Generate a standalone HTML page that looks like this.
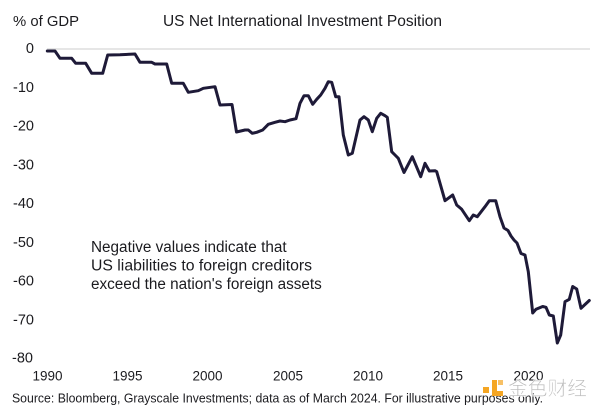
<!DOCTYPE html>
<html>
<head>
<meta charset="utf-8">
<style>
  html, body { margin: 0; padding: 0; background: #ffffff; }
  body { width: 600px; height: 411px; overflow: hidden; }
  svg { display: block; }
  .t { font-family: "Liberation Sans", Arial, sans-serif; fill: #1b1b1f; }
</style>
</head>
<body>
<svg width="600" height="411" viewBox="0 0 600 411" xmlns="http://www.w3.org/2000/svg">
  <rect x="0" y="0" width="600" height="411" fill="#ffffff"/>

  <!-- header -->
  <text class="t" x="13" y="26" font-size="15" textLength="66" lengthAdjust="spacingAndGlyphs">% of GDP</text>
  <text class="t" x="163" y="26" font-size="15.3" textLength="279" lengthAdjust="spacingAndGlyphs">US Net International Investment Position</text>

  <!-- zero gridline -->
  <line x1="47" y1="49" x2="590" y2="49" stroke="#e6e6e6" stroke-width="2"/>

  <!-- y-axis labels -->
  <g class="t" font-size="14.5" text-anchor="end">
    <text x="34" y="53.2">0</text>
    <text x="34" y="91.9">-10</text>
    <text x="34" y="130.7">-20</text>
    <text x="34" y="169.4">-30</text>
    <text x="34" y="208.2">-40</text>
    <text x="34" y="246.9">-50</text>
    <text x="34" y="285.7">-60</text>
    <text x="34" y="324.4">-70</text>
    <text x="33" y="362.5">-80</text>
  </g>

  <!-- x-axis labels -->
  <g class="t" font-size="13.5" text-anchor="middle">
    <text x="47.5" y="380.5">1990</text>
    <text x="127.5" y="380.5">1995</text>
    <text x="207.5" y="380.5">2000</text>
    <text x="288" y="380.5">2005</text>
    <text x="368" y="380.5">2010</text>
    <text x="448" y="380.5">2015</text>
    <text x="528.5" y="380.5">2020</text>
  </g>

  <!-- data line -->
  <polyline fill="none" stroke="#1e1a38" stroke-width="3" stroke-linejoin="round" stroke-linecap="round"
    points="47.3,51 55,51 60,58.3 71.7,58.3 75.7,63.3 85.7,63.3 91.7,73.3 102.7,73.3 107.7,55 120,54.7 135,54 140,62.3 151.7,62.3 155,64 166.7,64 171.7,83.3 183.3,83.3 188.3,92.3 198.3,90.7 203.3,88.3 215,86.7 220,105 232,104.5 236.5,132 245,130 248.3,130 252.3,133.3 256.7,132.3 262.7,130 268.3,124.3 275,122.3 280,121 285,121.7 290,120 296,118.7 300,103.3 304,95.7 308.3,95.7 312.7,104.3 316.7,99.3 320.7,95 325,88.3 328.3,81.7 331.7,82.3 335.7,96.7 339,96.7 343.3,135 348.3,155 352.3,153.3 360,120 364,116.7 368.3,120 372.3,131.7 376.7,118.3 380.7,113.3 385,115.7 387.3,117.3 391.7,151.7 395,155 398.3,158.3 404,172.5 412.3,156.7 420.7,176.7 425,163.3 429.3,171 435,170.7 436.7,171.7 445,200.7 452.7,195 456.7,205 461.7,209.3 469.3,220.7 473.3,215 477.3,216.7 485,206.7 489.3,200.7 495.7,200.7 500,216.7 504,228 508,230.5 511,236 514,240 517,243 521,253.5 525,255 528.3,271.7 532.7,313 536,309.3 542.7,306.5 546,307.3 549.3,315 553.3,316 557.3,343 560.7,335 565,301.7 569.3,299.3 572.7,286.5 576.7,289 581,308.3 585,304.5 589.3,300.5"/>

  <!-- annotation -->
  <g class="t" font-size="15.3">
    <text x="91" y="252">Negative values indicate that</text>
    <text x="91" y="270.5" textLength="221" lengthAdjust="spacingAndGlyphs">US liabilities to foreign creditors</text>
    <text x="91" y="289">exceed the nation's foreign assets</text>
  </g>

  <!-- source -->
  <text class="t" x="12" y="402.7" font-size="13" textLength="531" lengthAdjust="spacingAndGlyphs">Source: Bloomberg, Grayscale Investments; data as of March 2024. For illustrative purposes only.</text>

  <!-- watermark -->
  <g>
    <rect x="483" y="387" width="6" height="6" fill="#f5a623"/>
    <rect x="492" y="380" width="5" height="16" fill="#f5a623"/>
    <rect x="492" y="391" width="11" height="5" fill="#f5a623"/>
    <rect x="498" y="380" width="5" height="5" fill="#f7c065"/>
    <text x="508" y="395" font-size="19.5" font-family="'Liberation Sans','Noto Sans CJK SC',sans-serif"
      fill="#bdbdbd" stroke="#ffffff" stroke-width="0.6" textLength="79" lengthAdjust="spacingAndGlyphs">金色财经</text>
  </g>
</svg>
</body>
</html>
